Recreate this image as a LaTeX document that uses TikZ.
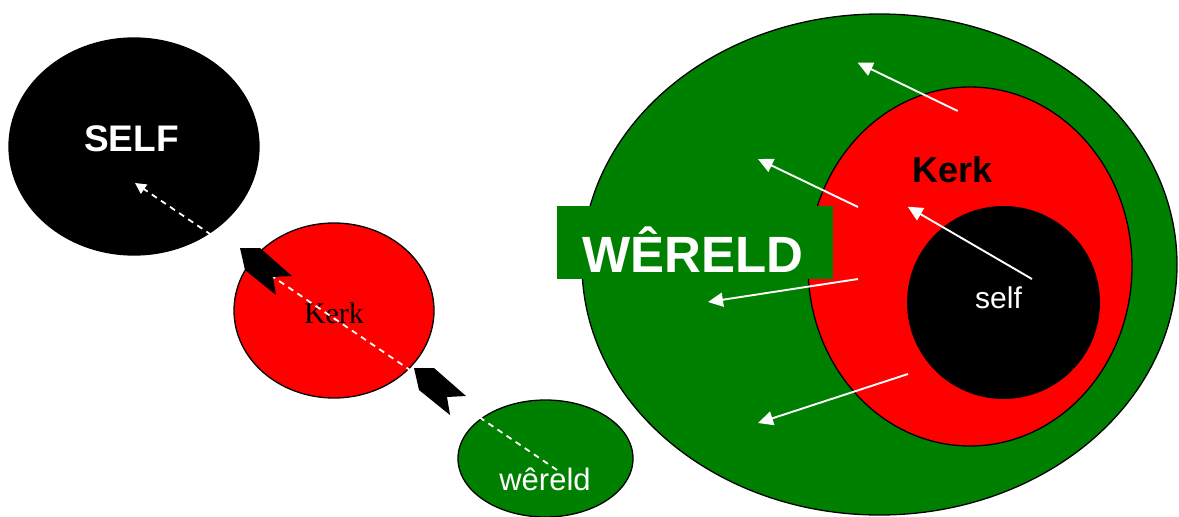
\documentclass[tikz,border=0pt]{standalone}
\usepackage{fontspec}
\setmainfont{Liberation Sans}
\newfontfamily\timesfont{Liberation Serif}
\usetikzlibrary{shapes.geometric,arrows.meta}
\definecolor{wgreen}{RGB}{0,128,0}
\definecolor{wred}{RGB}{255,0,0}

\begin{document}
\begin{tikzpicture}[x=1pt,y=1pt,line cap=butt,line join=round,
    blob/.style={ellipse, draw=black, line width=1.3pt, inner sep=0pt, outer sep=0pt},
    lbl/.style={inner sep=0pt, text=white},
    ray/.style={white, line width=1.9pt, -{Triangle[length=15pt,width=14pt]}}]
  \useasboundingbox (0,0) rectangle (1179,-517);

  % left side
  \node[blob, fill=black, minimum width=250, minimum height=217] (self) at (134,-146.5) {};
  \node[blob, fill=wred, minimum width=200, minimum height=175] (kerk) at (334,-310.5) {};
  \node[blob, fill=wgreen, minimum width=175, minimum height=117] (wereld) at (545.5,-458.5) {};

  \node[lbl, font=\bfseries\fontsize{37}{40}\selectfont] (selftxt) at (131.5,-138.5) {SELF};
  \node[lbl, text=black, font=\timesfont\fontsize{30}{32}\selectfont] (kerktxt) at (334,-313) {Kerk};
  \node[lbl, font=\fontsize{31}{34}\selectfont] (wereldtxt) at (545,-479) {wêreld};

  \coordinate (from) at (557,-470);
  \coordinate (to) at (135,-183);
  \draw[white, line width=1.8pt, dash pattern=on 6pt off 5pt, -{Triangle[length=11pt,width=11pt]}] (from) -- (to);

  \foreach \dx/\dy in {0/0,174/-120}
    \fill[black, shift={(\dx,\dy)}] (240,-248) -- (260,-248) -- (292,-276) -- (273,-277) -- (276,-295) -- (245,-270) -- cycle;

  % right side
  \node[blob, fill=wgreen, minimum width=595, minimum height=501] (world) at (879.5,-264.5) {};
  \node[blob, fill=wred, minimum width=324, minimum height=359] (church) at (970,-266.5) {};
  \node[ellipse, fill=black, inner sep=0pt, minimum width=193, minimum height=193] (core) at (1003.5,-302.5) {};
  \node[fill=wgreen, inner sep=0pt, minimum width=276, minimum height=73] (worldbox) at (695,-242.5) {};

  \node[lbl, font=\bfseries\fontsize{51}{54}\selectfont] (worldtxt) at (693,-249.5) {WÊRELD};
  \node[lbl, text=black, font=\bfseries\fontsize{36}{40}\selectfont] (churchtxt) at (953,-170) {Kerk};
  \node[lbl, font=\fontsize{30}{33}\selectfont] (coretxt) at (998.5,-297.5) {self};

  \foreach \a/\b/\c/\d in {957.7/111/857.7/62.7, 858/207/758/159, 1032/279/907.7/206.7, 858/279/708/302, 908/374/758/423}
    \draw[ray] (\a,-\b) -- (\c,-\d);
\end{tikzpicture}
\end{document}
